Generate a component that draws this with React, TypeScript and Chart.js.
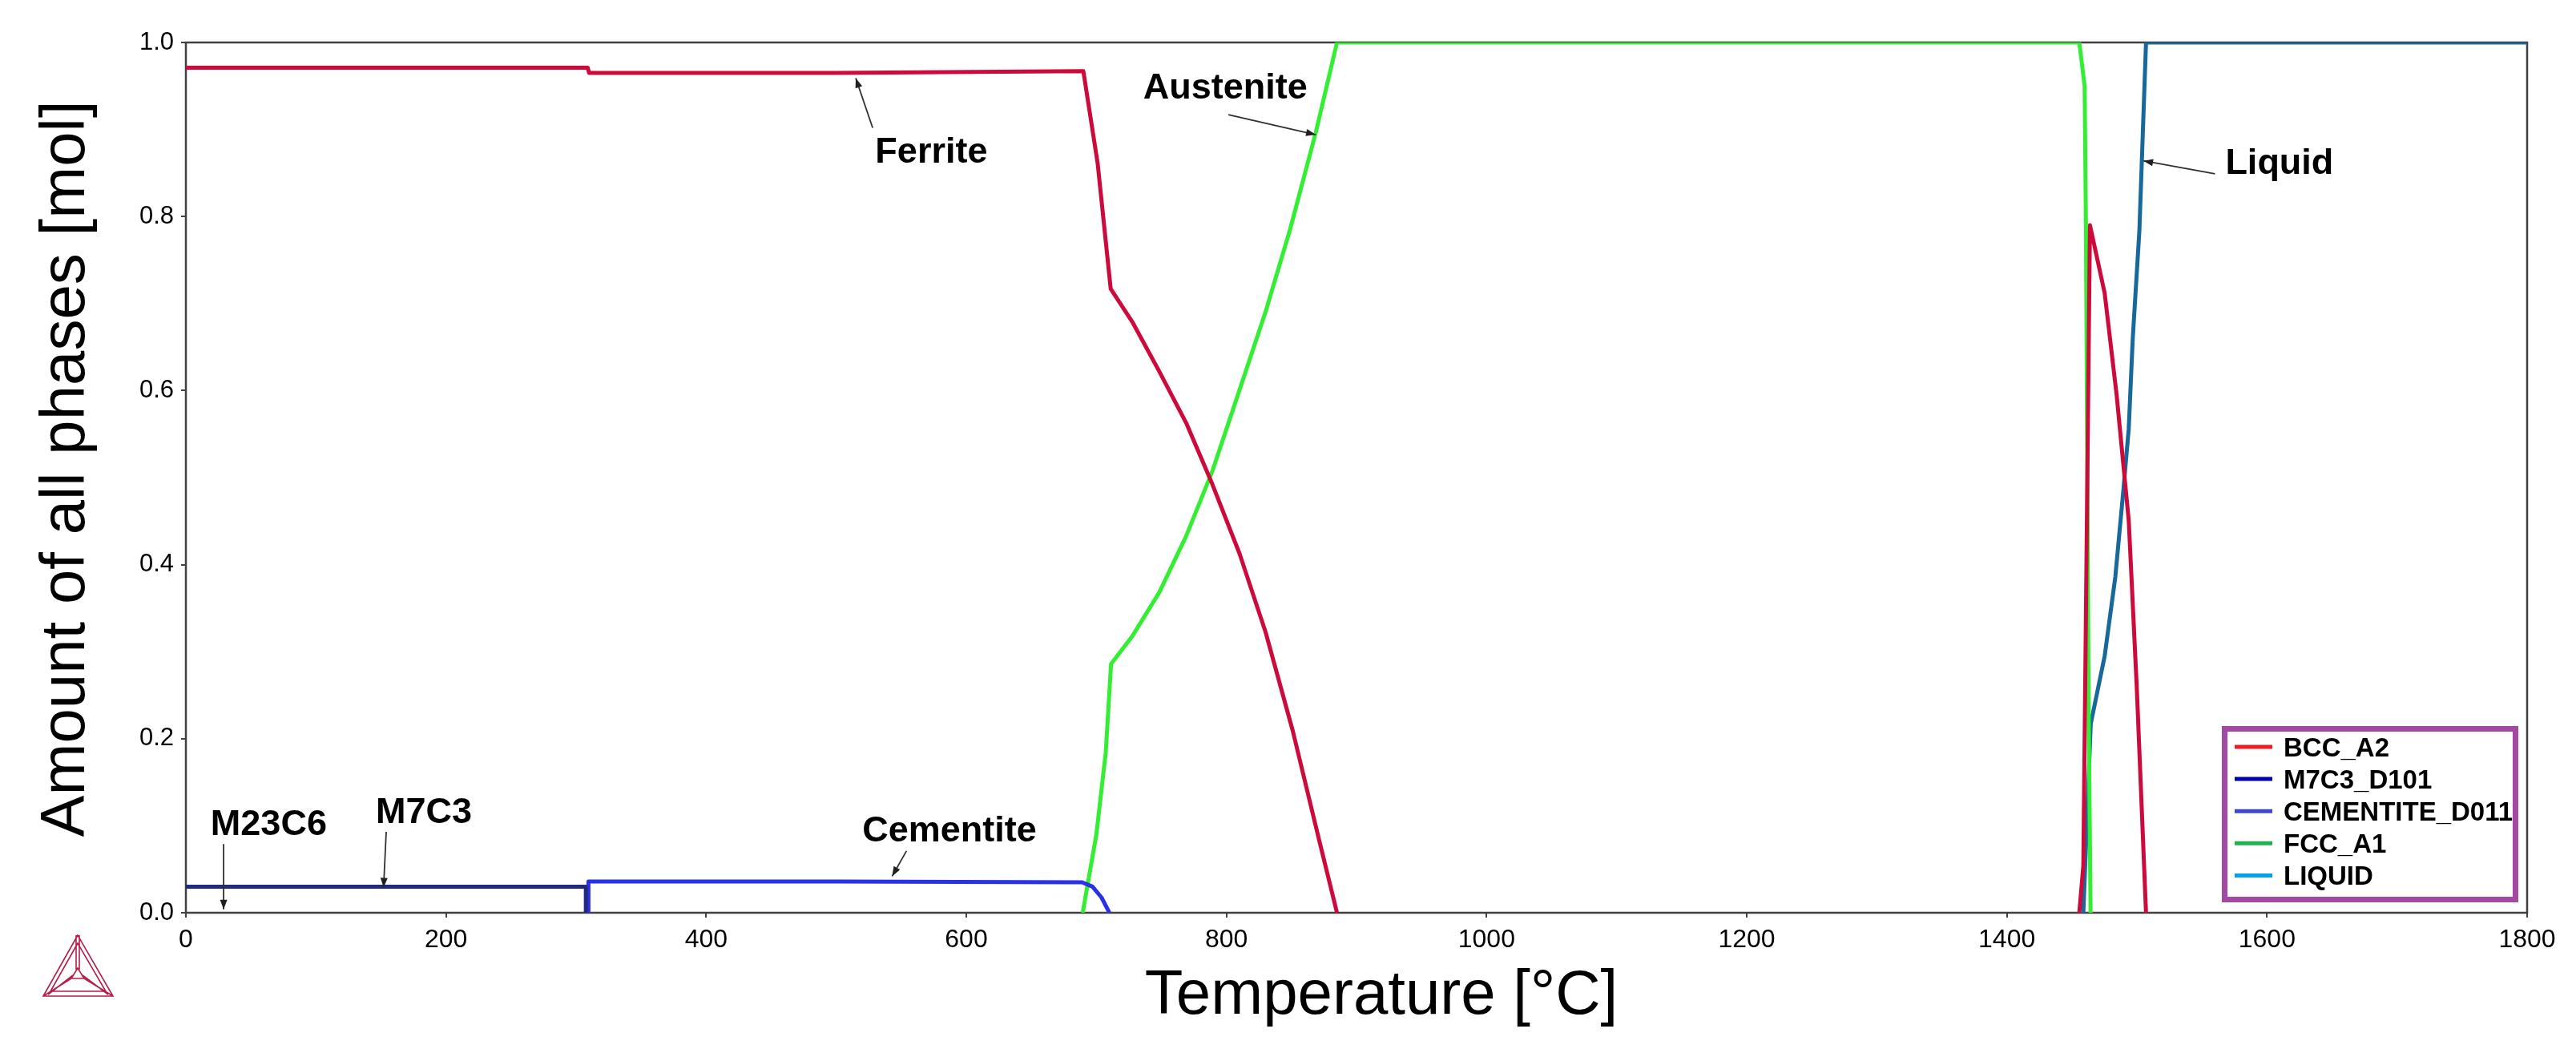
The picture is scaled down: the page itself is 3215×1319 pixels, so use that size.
import React, { useEffect, useRef } from 'react';
import { Chart, registerables } from 'chart.js';

Chart.register(...registerables);

const FONT = '"Liberation Sans", Arial, Helvetica, sans-serif';

// ---------- data (temperature in °C, amount in mol) ----------
const bccT = [0, 309, 310, 500, 690, 701, 711, 728, 748, 769, 789, 810, 830, 851, 871.5, 885, 1200, 1455.7, 1458.8, 1463.9, 1475.2, 1484.4, 1493.7, 1499.8, 1507];
const bccV = [0.971, 0.971, 0.965, 0.965, 0.967, 0.861, 0.717, 0.678, 0.623, 0.563, 0.493, 0.413, 0.323, 0.209, 0.082, 0, null, 0, 0.054, 0.79, 0.712, 0.595, 0.451, 0.262, 0];

const m7c3T = [0, 307.5, 307.5];
const m7c3V = [0.03, 0.03, 0];

const cemT = [309.5, 309.5, 500, 689, 697, 704, 710];
const cemV = [0, 0.036, 0.036, 0.035, 0.03, 0.0175, 0];

const fccT = [689.5, 700, 707.2, 711.3, 727.7, 748.3, 768.8, 789.3, 809.9, 830.4, 848.9, 868.6, 885, 1455.7, 1459.8, 1460.8, 1462.9, 1464.4];
const fccV = [0, 0.09, 0.184, 0.286, 0.318, 0.368, 0.432, 0.508, 0.6, 0.692, 0.785, 0.896, 1.0, 1.0, 0.95, 0.79, 0.23, 0];

const liqT = [1458.8, 1464.5, 1475.2, 1483.4, 1489.5, 1493.7, 1496.8, 1501.9, 1503.9, 1507, 1800];
const liqV = [0, 0.217, 0.295, 0.386, 0.484, 0.556, 0.66, 0.784, 0.869, 1.0, 1.0];

const seriesNames = ['BCC_A2', 'M7C3_D101', 'CEMENTITE_D011', 'FCC_A1', 'LIQUID'];
const lineColors = ['#CC0A3C', '#1F2A80', '#2A32E6', '#33EE33', '#17699C'];

// legend (as painted in the reference)
const legendLabels = ['BCC_A2', 'M7C3_D101', 'CEMENTITE_D011', 'FCC_A1', 'LIQUID'];
const legendColors = ['#ED1C24', '#0000AA', '#3F48CC', '#22B14C', '#00A2E8'];

// annotations (anchored in data units)
const annLabels = ['Ferrite', 'Austenite', 'Liquid', 'Cementite', 'M7C3', 'M23C6'];
const annTextT = [530, 736, 1568, 520, 146, 19];
const annTextV = [0.862, 0.936, 0.849, 0.082, 0.103, 0.089];
const annFromT = [528, 801.5, 1560, 554, 154, 29];
const annFromV = [0.902, 0.917, 0.849, 0.071, 0.093, 0.079];
const annToT = [515, 868.6, 1505, 543, 152, 29];
const annToV = [0.959, 0.894, 0.864, 0.042, 0.029, 0.004];

const xMin = 0, xMax = 1800, xStep = 200;
const yMin = 0, yMax = 1, yStep = 0.2;

const xTitle = 'Temperature [°C]';
const yTitle = 'Amount of all phases [mol]';

function toPoints(t: number[], v: (number | null)[]) {
  return t.map((x, i) => ({ x, y: v[i] }));
}

function drawArrow(ctx: CanvasRenderingContext2D, x1: number, y1: number, x2: number, y2: number) {
  ctx.beginPath();
  ctx.moveTo(x1, y1);
  ctx.lineTo(x2, y2);
  ctx.stroke();
  const ang = Math.atan2(y2 - y1, x2 - x1);
  const L = 12, Wd = 4.5;
  ctx.beginPath();
  ctx.moveTo(x2, y2);
  ctx.lineTo(x2 - L * Math.cos(ang) + Wd * Math.sin(ang), y2 - L * Math.sin(ang) - Wd * Math.cos(ang));
  ctx.lineTo(x2 - L * Math.cos(ang) - Wd * Math.sin(ang), y2 - L * Math.sin(ang) + Wd * Math.cos(ang));
  ctx.closePath();
  ctx.fill();
}

const decorPlugin = {
  id: 'decor',
  beforeDatasetsDraw(chart: any) {
    const { ctx, chartArea: a } = chart;
    ctx.save();
    ctx.strokeStyle = '#404040';
    ctx.lineWidth = 2.5;
    ctx.strokeRect(a.left, a.top, a.right - a.left, a.bottom - a.top);
    ctx.restore();
  },
  afterDraw(chart: any) {
    const { ctx } = chart;
    const xs = chart.scales.x;
    const ys = chart.scales.y;
    ctx.save();

    // axis titles
    ctx.fillStyle = '#000';
    ctx.font = `78px ${FONT}`;
    ctx.textAlign = 'center';
    ctx.textBaseline = 'alphabetic';
    ctx.fillText(xTitle, 1724, 1265);
    ctx.save();
    ctx.translate(105, 585);
    ctx.rotate(-Math.PI / 2);
    ctx.fillText(yTitle, 0, 0);
    ctx.restore();

    // annotations
    ctx.font = `bold 45px ${FONT}`;
    ctx.textAlign = 'left';
    ctx.strokeStyle = '#303030';
    ctx.lineWidth = 1.8;
    annLabels.forEach((lab, i) => {
      ctx.fillStyle = '#000';
      ctx.fillText(lab, xs.getPixelForValue(annTextT[i]), ys.getPixelForValue(annTextV[i]));
      ctx.fillStyle = '#202020';
      drawArrow(
        ctx,
        xs.getPixelForValue(annFromT[i]), ys.getPixelForValue(annFromV[i]),
        xs.getPixelForValue(annToT[i]), ys.getPixelForValue(annToV[i])
      );
    });

    // legend box
    const lx = 2773, ly = 906, lw = 370, lh = 220;
    ctx.fillStyle = '#fff';
    ctx.fillRect(lx, ly, lw, lh);
    ctx.strokeStyle = '#A349A4';
    ctx.lineWidth = 7;
    ctx.strokeRect(lx + 3.5, ly + 3.5, lw - 7, lh - 7);
    ctx.font = `bold 33px ${FONT}`;
    ctx.textBaseline = 'alphabetic';
    legendLabels.forEach((lab, i) => {
      const yc = 932 + i * 40.1;
      ctx.strokeStyle = legendColors[i];
      ctx.lineWidth = 5;
      ctx.beginPath();
      ctx.moveTo(2789, yc);
      ctx.lineTo(2836, yc);
      ctx.stroke();
      ctx.fillStyle = '#000';
      ctx.fillText(lab, 2850, yc + 12);
    });

    // logo (tetrahedron)
    ctx.strokeStyle = '#B41E48';
    ctx.lineWidth = 1.6;
    const ax = 97, ay = 1167, blx = 54, brx = 141, by = 1243;
    const cx = 97, cy = 1216;
    ctx.beginPath();
    ctx.moveTo(ax, ay); ctx.lineTo(blx, by); ctx.lineTo(brx, by); ctx.closePath();
    ctx.moveTo(ax, ay + 10); ctx.lineTo(blx + 9, by - 6); ctx.lineTo(brx - 9, by - 6); ctx.closePath();
    ctx.moveTo(ax - 2, ay); ctx.lineTo(cx - 2, cy - 6);
    ctx.moveTo(ax + 2, ay); ctx.lineTo(cx + 2, cy - 6);
    ctx.moveTo(cx, cy - 8); ctx.lineTo(cx - 8, cy + 5); ctx.lineTo(cx + 8, cy + 5); ctx.closePath();
    ctx.moveTo(cx - 8, cy + 5); ctx.lineTo(blx, by);
    ctx.moveTo(cx + 8, cy + 5); ctx.lineTo(brx, by);
    ctx.moveTo(cx - 6, cy + 1); ctx.lineTo(blx + 6, by - 2);
    ctx.moveTo(cx + 6, cy + 1); ctx.lineTo(brx - 6, by - 2);
    ctx.stroke();

    ctx.restore();
  },
};

export default function App() {
  const ref = useRef<HTMLCanvasElement | null>(null);

  useEffect(() => {
    if (!ref.current) return;
    const series = [
      toPoints(bccT, bccV),
      toPoints(m7c3T, m7c3V),
      toPoints(cemT, cemV),
      toPoints(fccT, fccV),
      toPoints(liqT, liqV),
    ];
    const chart = new Chart(ref.current, {
      type: 'line',
      data: {
        datasets: series.map((d, i) => ({
          label: seriesNames[i],
          data: d,
          borderColor: lineColors[i],
          backgroundColor: lineColors[i],
          borderWidth: 5,
          pointRadius: 0,
          tension: 0,
          spanGaps: false,
          fill: false,
          borderJoinStyle: 'round' as const,
        })),
      },
      options: {
        animation: false,
        responsive: false,
        devicePixelRatio: 1,
        events: [],
        layout: { padding: { top: 53, right: 61, left: 0, bottom: 0 } },
        plugins: {
          legend: { display: false },
          tooltip: { enabled: false },
          title: { display: false },
        },
        scales: {
          x: {
            type: 'linear',
            min: xMin,
            max: xMax,
            ticks: {
              stepSize: xStep,
              font: { family: FONT, size: 32 },
              color: '#000',
              padding: 9,
              maxRotation: 0,
              autoSkip: false,
              callback: (v: any) => String(v),
            },
            grid: { display: true, drawOnChartArea: false, drawTicks: true, tickLength: 6, color: '#404040', lineWidth: 2 },
            border: { display: false },
            afterFit: (s: any) => { s.height = 180; },
          },
          y: {
            type: 'linear',
            min: yMin,
            max: yMax,
            ticks: {
              stepSize: yStep,
              font: { family: FONT, size: 31 },
              color: '#000',
              padding: 9,
              callback: (v: any) => Number(v).toFixed(1),
            },
            grid: { display: true, drawOnChartArea: false, drawTicks: true, tickLength: 6, color: '#404040', lineWidth: 2 },
            border: { display: false },
            afterFit: (s: any) => { s.width = 232; },
          },
        },
      } as any,
      plugins: [decorPlugin],
    });
    return () => chart.destroy();
  }, []);

  return (
    <div style={{ position: 'absolute', left: 0, top: 0, width: 3215, height: 1319, background: '#fff' }}>
      <canvas ref={ref} width={3215} height={1319} style={{ display: 'block', width: 3215, height: 1319 }} />
    </div>
  );
}
